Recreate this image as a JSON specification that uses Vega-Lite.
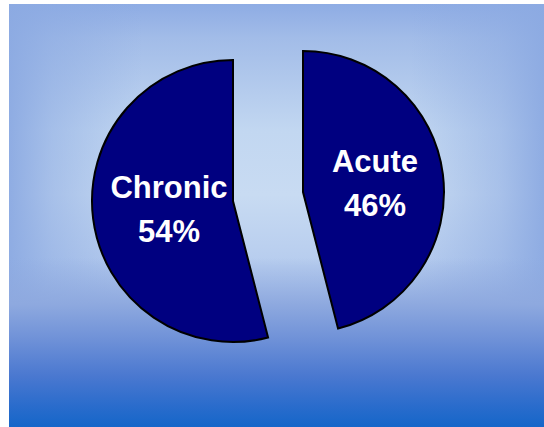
{
  "$schema": "https://vega.github.io/schema/vega-lite/v6.json",
  "width": 535,
  "height": 423,
  "autosize": {"type": "none"},
  "padding": {"left": 9, "top": 4, "right": 0, "bottom": 0},
  "background": "white",
  "config": {"view": {"stroke": null}},
  "datasets": {
    "slices": [
      {"category": "Acute", "value": 46, "label": "Acute\n46%"},
      {"category": "Chronic", "value": 54, "label": "Chronic\n54%"}
    ],
    "panel": [{"panel": "background"}]
  },
  "layer": [
    {
      "data": {"name": "panel"},
      "mark": {
        "type": "rect",
        "fill": {
          "gradient": "linear", "x1": 0, "y1": 0, "x2": 0, "y2": 1,
          "stops": [
            {"offset": 0, "color": "#8eace4"},
            {"offset": 0.08, "color": "#a2bce8"},
            {"offset": 0.3, "color": "#c2d7f1"},
            {"offset": 0.45, "color": "#c8dbf2"},
            {"offset": 0.62, "color": "#b6ccee"},
            {"offset": 1, "color": "#b0c8ec"}
          ]
        }
      },
      "encoding": {}
    },
    {
      "data": {"name": "panel"},
      "mark": {
        "type": "rect",
        "fill": {
          "gradient": "linear", "x1": 0, "y1": 0, "x2": 1, "y2": 0,
          "stops": [
            {"offset": 0, "color": "rgba(140,170,226,0.95)"},
            {"offset": 0.08, "color": "rgba(140,170,226,0.55)"},
            {"offset": 0.25, "color": "rgba(140,170,226,0)"},
            {"offset": 0.75, "color": "rgba(140,170,226,0)"},
            {"offset": 0.92, "color": "rgba(140,170,226,0.55)"},
            {"offset": 1, "color": "rgba(140,170,226,0.95)"}
          ]
        }
      },
      "encoding": {}
    },
    {
      "data": {"name": "panel"},
      "mark": {
        "type": "rect",
        "fill": {
          "gradient": "linear", "x1": 0, "y1": 0, "x2": 0, "y2": 1,
          "stops": [
            {"offset": 0, "color": "rgba(142,169,223,0)"},
            {"offset": 0.6, "color": "rgba(142,169,223,0)"},
            {"offset": 0.71, "color": "rgba(142,169,223,1)"},
            {"offset": 0.79, "color": "#7092d8"},
            {"offset": 0.88, "color": "#4a78d0"},
            {"offset": 0.95, "color": "#2a6ccc"},
            {"offset": 1, "color": "#1566c9"}
          ]
        }
      },
      "encoding": {}
    },
    {
      "data": {"name": "slices"},
      "mark": {"type": "arc", "radius": 141, "xOffset": 26.5, "yOffset": -23.5, "fill": "#000080", "stroke": "black", "strokeWidth": 2},
      "encoding": {
        "theta": {"field": "value", "type": "quantitative", "stack": true},
        "order": {"field": "category", "sort": "ascending"},
        "detail": {"field": "category"},
        "fillOpacity": {"condition": {"test": "datum.category === 'Acute'", "value": 1}, "value": 0},
        "strokeOpacity": {"condition": {"test": "datum.category === 'Acute'", "value": 1}, "value": 0}
      }
    },
    {
      "data": {"name": "slices"},
      "mark": {"type": "arc", "radius": 141, "xOffset": -43.5, "yOffset": -14.5, "fill": "#000080", "stroke": "black", "strokeWidth": 2},
      "encoding": {
        "theta": {"field": "value", "type": "quantitative", "stack": true},
        "order": {"field": "category", "sort": "ascending"},
        "detail": {"field": "category"},
        "fillOpacity": {"condition": {"test": "datum.category === 'Chronic'", "value": 1}, "value": 0},
        "strokeOpacity": {"condition": {"test": "datum.category === 'Chronic'", "value": 1}, "value": 0}
      }
    },
    {
      "data": {"name": "slices"},
      "mark": {"type": "text", "radius": 72.6, "xOffset": 26.5, "yOffset": -43.5, "font": "Liberation Sans", "fontSize": 31, "fontWeight": "bold", "fill": "white", "lineBreak": "\n", "lineHeight": 44, "align": "center", "baseline": "middle"},
      "encoding": {
        "theta": {"field": "value", "type": "quantitative", "stack": true},
        "order": {"field": "category", "sort": "ascending"},
        "detail": {"field": "category"},
        "text": {"field": "label"},
        "opacity": {"condition": {"test": "datum.category === 'Acute'", "value": 1}, "value": 0}
      }
    },
    {
      "data": {"name": "slices"},
      "mark": {"type": "text", "radius": 64.5, "xOffset": -43.5, "yOffset": -34.5, "font": "Liberation Sans", "fontSize": 31, "fontWeight": "bold", "fill": "white", "lineBreak": "\n", "lineHeight": 44, "align": "center", "baseline": "middle"},
      "encoding": {
        "theta": {"field": "value", "type": "quantitative", "stack": true},
        "order": {"field": "category", "sort": "ascending"},
        "detail": {"field": "category"},
        "text": {"field": "label"},
        "opacity": {"condition": {"test": "datum.category === 'Chronic'", "value": 1}, "value": 0}
      }
    }
  ]
}
